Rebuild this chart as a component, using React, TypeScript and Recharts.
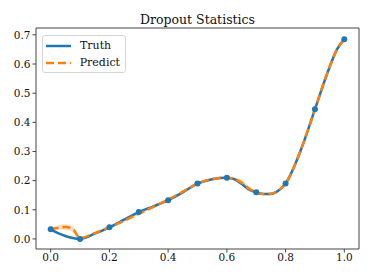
import {
  ComposedChart, Line, Area, XAxis, YAxis
} from 'recharts'

// Truth samples (scatter points)
const sampleX = [0, 0.1, 0.2, 0.3, 0.4, 0.5, 0.6, 0.7, 0.8, 0.9, 1.0]
const sampleY = [0.033, 0.0, 0.04, 0.092, 0.133, 0.19, 0.21, 0.16, 0.19, 0.445, 0.685]

// Dense curves
const curveX = [0, 0.025, 0.05, 0.075, 0.1, 0.15, 0.2, 0.25, 0.3, 0.35, 0.4, 0.45, 0.5, 0.55, 0.6, 0.625, 0.65, 0.675, 0.7, 0.725, 0.75, 0.775, 0.8, 0.85, 0.875, 0.9, 0.95, 0.975, 1.0]
const truthY = [0.033, 0.02, 0.01, 0.003, 0.0, 0.018, 0.04, 0.066, 0.092, 0.112, 0.133, 0.16, 0.19, 0.205, 0.21, 0.205, 0.189, 0.17, 0.16, 0.154, 0.154, 0.165, 0.19, 0.3, 0.37, 0.445, 0.59, 0.65, 0.685]
const predictY = [0.033, 0.038, 0.041, 0.034, 0.003, 0.02, 0.04, 0.062, 0.086, 0.11, 0.135, 0.162, 0.19, 0.205, 0.21, 0.206, 0.193, 0.173, 0.16, 0.154, 0.155, 0.166, 0.19, 0.3, 0.37, 0.445, 0.59, 0.65, 0.685]
const bandLow = [0.03, 0.031, 0.032, 0.025, 0.0, 0.016, 0.036, 0.058, 0.082, 0.106, 0.131, 0.158, 0.186, 0.201, 0.206, 0.2, 0.185, 0.165, 0.156, 0.15, 0.151, 0.162, 0.186, 0.296, 0.366, 0.441, 0.586, 0.646, 0.681]
const bandHigh = [0.036, 0.046, 0.05, 0.043, 0.007, 0.024, 0.044, 0.066, 0.09, 0.114, 0.139, 0.166, 0.194, 0.209, 0.214, 0.212, 0.201, 0.181, 0.164, 0.158, 0.159, 0.17, 0.194, 0.304, 0.374, 0.449, 0.594, 0.654, 0.689]

const xTicks = [0, 0.2, 0.4, 0.6, 0.8, 1.0]
const yTicks = [0, 0.1, 0.2, 0.3, 0.4, 0.5, 0.6, 0.7]

const BLUE = '#1f77b4'
const ORANGE = '#ff7f0e'
const FONT = '"DejaVu Serif", serif'
const AXIS = '#444'
const X_DOMAIN = [-0.05, 1.05]
const Y_DOMAIN = [-0.0345, 0.7235]

const sampleRows = sampleX.map((x, i) => ({ x, sample: sampleY[i] }))
const curveRows = curveX.map((x, i) => ({
  x, truth: truthY[i], predict: predictY[i], band: [bandLow[i], bandHigh[i]]
}))

const tickStyle = { fill: '#111', fontSize: 10.5, fontFamily: FONT }

function LegendBox() {
  const row = (label: string, dashed: boolean) => (
    <div style={{ display: 'flex', alignItems: 'center', height: 17 }}>
      <svg width={26} height={6} style={{ marginRight: 8 }}>
        <line x1={0} y1={3} x2={25} y2={3} stroke={dashed ? ORANGE : BLUE} strokeWidth={2.5}
          strokeDasharray={dashed ? '8 4' : undefined} />
      </svg>
      <span>{label}</span>
    </div>
  )
  return (
    <div style={{
      position: 'absolute', left: 42, top: 35,
      border: '1px solid #d6d6d6', borderRadius: 3, background: 'rgba(255,255,255,0.8)',
      padding: '1px 5px 1px 3px', fontFamily: FONT, fontSize: 11, color: '#111', width: 74
    }}>
      {row('Truth', false)}
      {row('Predict', true)}
    </div>
  )
}

export default function App() {
  return (
    <div style={{ position: 'relative', width: 374, height: 280, margin: -8, background: '#fff' }}>
      <div style={{
        position: 'absolute', top: 12, left: 36, width: 323, textAlign: 'center',
        fontFamily: FONT, fontSize: 12.5, lineHeight: '16px', color: '#111'
      }}>
        Dropout Statistics
      </div>
      <ComposedChart width={374} height={280} margin={{ top: 27, right: 14, bottom: 1, left: 0 }}>
        <XAxis dataKey="x" type="number" domain={X_DOMAIN} ticks={xTicks}
          tickFormatter={(v: number) => v.toFixed(1)} tick={tickStyle}
          stroke={AXIS} tickSize={3.5} tickMargin={1} height={30} allowDataOverflow />
        <XAxis xAxisId="top" dataKey="x" orientation="top" type="number" domain={X_DOMAIN}
          tick={false} tickLine={false} stroke={AXIS} height={1} allowDataOverflow />
        <YAxis type="number" domain={Y_DOMAIN} ticks={yTicks}
          tickFormatter={(v: number) => v.toFixed(1)} tick={tickStyle}
          stroke={AXIS} tickSize={3.5} tickMargin={2} width={36} allowDataOverflow />
        <YAxis yAxisId="right" orientation="right" type="number" domain={Y_DOMAIN}
          tick={false} tickLine={false} stroke={AXIS} width={1} allowDataOverflow />
        <Line data={curveRows} dataKey="truth" type="monotone" stroke={BLUE} strokeWidth={2.5}
          dot={false} isAnimationActive={false} />
        <Line data={sampleRows} dataKey="sample" stroke="none" legendType="none"
          dot={{ r: 3, fill: BLUE, stroke: 'none' }} isAnimationActive={false} />
        <Area data={curveRows} dataKey="band" type="monotone" stroke="none" fill={ORANGE}
          fillOpacity={0.3} isAnimationActive={false} />
        <Line data={curveRows} dataKey="predict" type="monotone" stroke={ORANGE} strokeWidth={2.5}
          strokeDasharray="8 4" dot={false} isAnimationActive={false} />
      </ComposedChart>
      <LegendBox />
    </div>
  )
}
